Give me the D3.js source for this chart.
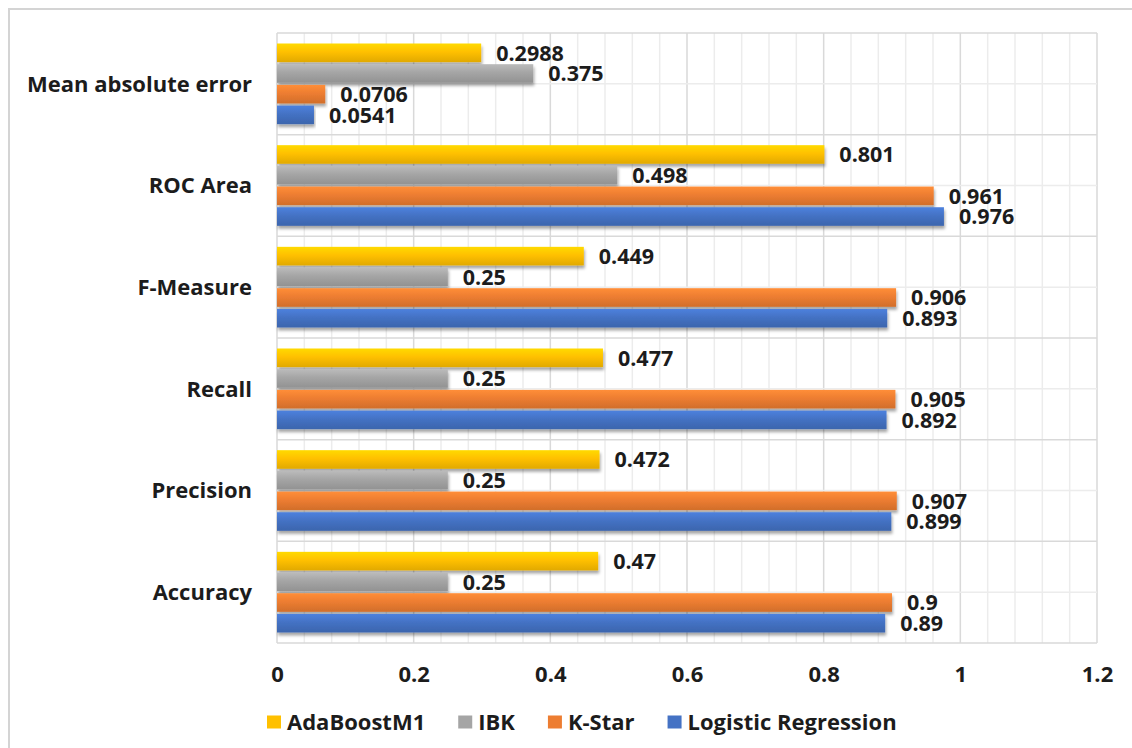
<!DOCTYPE html>
<html>
<head>
<meta charset="utf-8">
<script src="https://cdn.jsdelivr.net/npm/d3@7/dist/d3.min.js"></script>
<style>
  html, body { margin: 0; padding: 0; background: #fff; }
  svg { display: block; font-family: "Open Sans", "Liberation Sans", sans-serif; font-weight: 700; }
</style>
</head>
<body>
<svg id="chart" width="1132" height="748"></svg>
<script>
// Metrics shown on the vertical axis, top to bottom
const categories = ["Mean absolute error", "ROC Area", "F-Measure", "Recall", "Precision", "Accuracy"];
// Classifiers, in the order their bars are stacked within each metric
const seriesNames = ["AdaBoostM1", "IBK", "K-Star", "Logistic Regression"];
const adaBoostM1 = [0.2988, 0.801, 0.449, 0.477, 0.472, 0.47];
const ibk = [0.375, 0.498, 0.25, 0.25, 0.25, 0.25];
const kStar = [0.0706, 0.961, 0.906, 0.905, 0.907, 0.9];
const logisticRegression = [0.0541, 0.976, 0.893, 0.892, 0.899, 0.89];
const xTicks = [0, 0.2, 0.4, 0.6, 0.8, 1, 1.2];
const seriesColors = ["#FFC000", "#A5A5A5", "#ED7D31", "#4472C4"];

const seriesValues = [adaBoostM1, ibk, kStar, logisticRegression];

const svg = d3.select("#chart");
const plot = { left: 277, right: 1097, top: 33, bottom: 643 };
const textColor = "#1c1c1c";

// Outer frame (only the top and left edges fall inside the canvas)
svg.append("rect")
  .attr("x", 9).attr("y", 9).attr("width", 1140).attr("height", 760)
  .attr("fill", "#fff").attr("stroke", "#d4d4d4").attr("stroke-width", 2);

const x = d3.scaleLinear().domain([0, 1.2]).range([plot.left, plot.right]);
const y0 = d3.scaleBand().domain(categories).range([plot.top, plot.bottom]).padding(0);
const groupPad = 10.5;
const y1 = d3.scaleBand().domain(seriesNames)
  .range([groupPad, y0.bandwidth() - groupPad]).paddingInner(0.1).paddingOuter(0);

const defs = svg.append("defs");
seriesColors.forEach((c, i) => {
  const g = defs.append("linearGradient").attr("id", "grad" + i)
    .attr("x1", 0).attr("y1", 0).attr("x2", 0).attr("y2", 1);
  g.append("stop").attr("offset", "0%").attr("stop-color", d3.color(c).brighter(0.35));
  g.append("stop").attr("offset", "45%").attr("stop-color", c);
  g.append("stop").attr("offset", "100%").attr("stop-color", d3.color(c).darker(0.35));
});
const shadow = defs.append("filter").attr("id", "shadow")
  .attr("x", "-5%").attr("y", "-30%").attr("width", "110%").attr("height", "180%");
shadow.append("feDropShadow").attr("dx", 1).attr("dy", 3)
  .attr("stdDeviation", 1.6).attr("flood-color", "#000").attr("flood-opacity", 0.35);

// Gridlines: minor every 0.04, major every 0.2; horizontal at each half band
const grid = svg.append("g");
const minorX = d3.range(0, 31).map(i => +(i * 0.04).toFixed(2));
grid.selectAll("line.vminor").data(minorX).join("line")
  .attr("x1", d => x(d)).attr("x2", d => x(d))
  .attr("y1", plot.top).attr("y2", plot.bottom)
  .attr("stroke", d => xTicks.some(t => Math.abs(t - d) < 1e-9) ? "#d9d9d9" : "#ececec")
  .attr("stroke-width", 1.5);
const hLines = d3.range(0, categories.length * 2 + 1)
  .map(i => plot.top + i * y0.bandwidth() / 2);
grid.selectAll("line.h").data(hLines).join("line")
  .attr("x1", plot.left).attr("x2", plot.right)
  .attr("y1", d => d).attr("y2", d => d)
  .attr("stroke", (d, i) => i % 2 === 0 ? "#d9d9d9" : "#ececec")
  .attr("stroke-width", 1.5);

// Bars
const rows = categories.map((cat, ci) => ({
  cat,
  items: seriesNames.map((s, si) => ({ s, si, v: seriesValues[si][ci] }))
}));

const groups = svg.append("g").selectAll("g").data(rows).join("g")
  .attr("transform", d => `translate(0,${y0(d.cat)})`);

groups.selectAll("rect").data(d => d.items).join("rect")
  .attr("x", x(0))
  .attr("y", d => y1(d.s))
  .attr("width", d => x(d.v) - x(0))
  .attr("height", y1.bandwidth())
  .attr("fill", d => `url(#grad${d.si})`)
  .attr("filter", "url(#shadow)");

groups.selectAll("text").data(d => d.items).join("text")
  .attr("x", d => x(d.v) + 15)
  .attr("y", d => y1(d.s) + y1.bandwidth() / 2)
  .attr("dy", "0.36em")
  .attr("font-size", 21.5)
  .attr("fill", textColor)
  .text(d => String(d.v));

// Category labels
svg.append("g").selectAll("text").data(categories).join("text")
  .attr("x", plot.left - 25)
  .attr("y", d => y0(d) + y0.bandwidth() / 2)
  .attr("dy", "0.36em")
  .attr("text-anchor", "end")
  .attr("font-size", 22)
  .attr("fill", textColor)
  .text(d => d);

// Value axis
const xAxis = d3.axisBottom(x).tickValues(xTicks).tickSize(0).tickPadding(23)
  .tickFormat(d => String(d));
const ax = svg.append("g").attr("transform", `translate(0,${plot.bottom})`).call(xAxis);
ax.select(".domain").remove();
ax.selectAll("text")
  .attr("font-family", "'Open Sans', 'Liberation Sans', sans-serif")
  .attr("font-weight", 700)
  .attr("font-size", 22)
  .attr("fill", textColor);

// Legend
const legend = svg.append("g").attr("transform", "translate(267,722)");
let lx = 0;
seriesNames.forEach((name, i) => {
  const item = legend.append("g").attr("transform", `translate(${lx},0)`);
  item.append("rect").attr("x", 0).attr("y", -6.5).attr("width", 14).attr("height", 13)
    .attr("fill", seriesColors[i]);
  const t = item.append("text").attr("x", 20).attr("y", 0).attr("dy", "0.36em")
    .attr("font-size", 22).attr("fill", textColor).text(name);
  lx += 20 + t.node().getComputedTextLength() + 33;
});
</script>
</body>
</html>
